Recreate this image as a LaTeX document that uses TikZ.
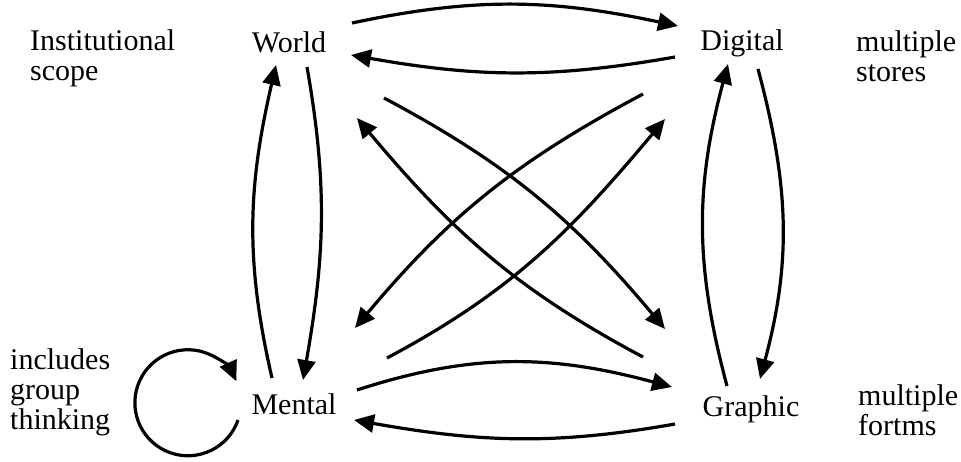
\documentclass[tikz,border=0pt]{standalone}
\usepackage{fontspec}
\setmainfont{Liberation Serif}
\usepackage{tikz}
\usetikzlibrary{arrows.meta,positioning,calc}

\begin{document}
\begin{tikzpicture}[
    x=1pt, y=-1pt,
    place/.style={font=\fontsize{30}{30}\selectfont, inner sep=0pt},
    note/.style={font=\fontsize{30}{30}\selectfont, align=left, anchor=west, inner sep=0pt},
    flow/.style={-{Triangle[length=20pt,width=18pt]}, line width=3.2pt}
]
\useasboundingbox (0,0) rectangle (961,461);

% Places
\node[place] (world) at (289,42) {World};
\node[place] (digital) at (742,43) {Digital};
\node[place] (mental) at (294,404) {Mental};
\node[place] (graphic) at (751,409) {Graphic};

% Notes
\node[note] (scope) at (30,58) {Institutional\\scope};
\node[note] (stores) at (856,56) {multiple\\stores};
\node[note] (forms) at (858,410) {multiple\\fortms};
\node[note] (group) at (10,392) {includes\\group\\thinking};

% Top and bottom pairs
\draw[flow] ($(world)+(63,-19)$) to[out=12, in=168] ($(digital)+(-64,-17)$);
\draw[flow] ($(digital)+(-67,14)$) to[out=190, in=-10] ($(world)+(62,13)$);
\draw[flow] ($(mental)+(63,-14)$) to[out=18, in=165] ($(graphic)+(-79,-22)$);
\draw[flow] ($(graphic)+(-76,15)$) to[out=190, in=-10] ($(mental)+(60,16)$);

% Side pairs
\draw[flow] ($(world)+(18,25)$) to[out=-80, in=80] ($(mental)+(9,-24)$);
\draw[flow] ($(mental)+(-22,-26)$) to[out=103, in=-103] ($(world)+(-13,23)$);
\draw[flow] ($(digital)+(16,26)$) to[out=-75, in=75] ($(graphic)+(9,-30)$);
\draw[flow] ($(graphic)+(-24,-23)$) to[out=105, in=-105] ($(digital)+(-14,21)$);

% Diagonals
\draw[flow] ($(world)+(95,56)$) to[out=-28, in=130] ($(graphic)+(-86,-80)$);
\draw[flow] ($(digital)+(-99,51)$) to[out=208, in=50] ($(mental)+(61,-76)$);
\draw[flow] ($(mental)+(93,-46)$) to[out=28, in=230] ($(digital)+(-77,76)$);
\draw[flow] ($(graphic)+(-108,-52)$) to[out=152, in=-50] ($(world)+(68,76)$);

% Self loop
\draw[flow] ($(mental)+(-56,16)$) arc[start angle=-19, end angle=-336, radius=53pt];

\end{tikzpicture}
\end{document}
